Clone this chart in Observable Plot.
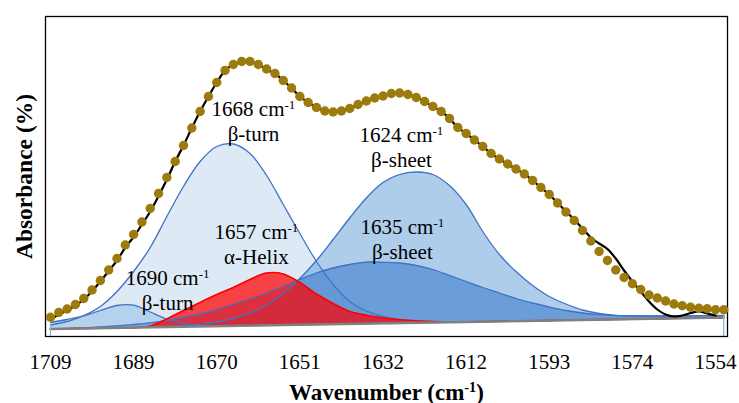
<!DOCTYPE html>
<html><head><meta charset="utf-8">
<script src="https://cdn.jsdelivr.net/npm/d3@7"></script>
<script src="https://cdn.jsdelivr.net/npm/@observablehq/plot@0.6"></script>
<style>
html,body{margin:0;padding:0;background:#fff;}
#chart{width:739px;height:403px;}
</style></head><body><div id="chart"></div>
<script>
// ---- data ----
const wnStart = 1709, wnStep = 1.9375;          // sampling grid of the spectrum (cm-1)
const tickLabels = ["1709","1689","1670","1651","1632","1612","1593","1574","1554"];
// observed spectrum (dots), one value per grid point i = 0..81
const observed = [19.3,24,27.5,32,38,46.5,56,66.5,78,91.5,
  102,114.5,128,143,159,175,191,208.5,225,240,
  254,266,272,275,275,272,267.5,263,256,248.5,
  240,234,229,225.5,224.5,225.5,228,232,235.5,238.5,
  240.5,243,243.5,242,239,235,230,225,218,209,
  203,196.5,190,183,177.5,172.5,167.5,162.5,156,149,
  142,133.5,124.5,116,106,95.5,85,76,66.5,59,
  52.7,47,41.5,38.5,35.5,32.5,30.7,29.3,28.3,27.7,
  26.8,26.7];
// fitted envelope (black line), i = 0..80
const fitted = [17,22,26,31,37,45.5,55,65.5,76,89,
  99.5,112,125,140.5,157,175,191,208.5,225,240,
  254,266,272,275,275,272,267.5,263,256,248.5,
  240,234,229,225.5,224.5,225.5,228,232,235.5,238.5,
  240.5,243,243.5,242,239,235,230,225,218,209,
  203,196.5,190,183,177.5,172.5,167.5,162.5,156,149,
  142,133.5,125,117,108,99,93,87.5,78,66,
  55,45,35,27,22,20,21,23.5,25,23,
  21];
// component bands, sampled at grid points i = 0,2,4,...,80,81
const band1690 = [11.5,15,20.5,26,31,31.3,24.5,17.5,13,10.7,10.3,10.6,10.9,11.2,11.5,11.8,12,12.3,12.6,12.9,13.2,13.5,13.7,14,14.3,14.6,14.9,15.2,15.4,15.7,16,16.3,16.6,16.9,17.1,17.4,17.7,18,18.3,18.6,18.8,19];
const band1668 = [14,17,21,30,45,65,89,120,150,175,190,192.5,183,161,132,103,75,52,35,25.5,20,17,15.2,14.5,14.3,14.6,14.9,15.2,15.4,15.7,16,16.3,16.6,16.9,17.1,17.4,17.7,18,18.3,18.6,18.8,19];
const band1657 = [7.5,7.8,8.1,8.4,8.6,8.9,10.5,17.5,26,34,42,49,57,63.5,62.5,54,42.5,33,25,21.2,18.5,16.8,15.7,15,14.5,14.6,14.9,15.2,15.4,15.7,16,16.3,16.6,16.9,17.1,17.4,17.7,18,18.3,18.6,18.8,19];
const band1635 = [7.7,8,8.6,9.5,10.5,12,13.7,16,19,22.5,27,32,37.5,43.5,50,57,63.5,68.5,72,74.4,74.2,73.5,71,67,61,55,49,43.5,38,33.5,29.5,26,23.5,21.8,20.8,20.5,20.5,20.7,20.8,20.9,21,21];
const band1624 = [7.5,7.8,8.1,8.4,8.6,8.9,9.2,9.7,10.5,12.3,14.5,18,23.5,31.5,43,58,76,97,118.5,138.5,154,162,164.5,162,151,132,105,82,65,51,40,32.5,26.5,23,21.2,20.5,20.3,20.4,20.5,20.6,20.7,20.7];
const baselineEnds = [7.5, 19];
const bandLabels = ["1690 cm-1\nβ-turn","1668 cm-1\nβ-turn","1657 cm-1\nα-Helix","1635 cm-1\nβ-sheet","1624 cm-1\nβ-sheet"];

// ---- tables ----
const wn = i => wnStart - i * wnStep;
const obsData = observed.map((v, i) => ({wn: wn(i), v}));
const fitData = fitted.map((v, i) => ({wn: wn(i), v}));
const bandIdx = d3.range(0, 81, 2).concat([81]);
const band = arr => arr.map((v, k) => ({wn: wn(bandIdx[k]), v}));
const lastWn = wn(81);
const baseData = [{wn: wnStart, v: baselineEnds[0]}, {wn: lastWn, v: baselineEnds[1]}];
const tickPos = tickLabels.map((_, k) => wn(k * 10));
const tickMap = new Map(tickPos.map((p, k) => [p, tickLabels[k]]));

// label anchors (layout): wavenumber centre, baseline height of last line
const labelPos = [[1681.7, 26.5],[1661.7, 196],[1661.0, 73],[1627.0, 77.5],[1627.2, 170]];
const labelData = bandLabels.map((t, k) => ({t, wn: labelPos[k][0], v: labelPos[k][1]}));

const blue = "#4472c4";
const curve = "catmull-rom";
const serif = "'Liberation Serif','Times New Roman',serif";

const chart = Plot.plot({
  width: 739, height: 403,
  marginLeft: 45, marginRight: 12, marginTop: 16, marginBottom: 67,
  style: {fontFamily: serif, fontSize: "21px", color: "black", background: "white", overflow: "visible"},
  x: {domain: [1710.165, 1551.203], ticks: tickPos, tickFormat: d => tickMap.get(d), tickSize: 0, tickPadding: 18, label: null},
  y: {domain: [0, 320], axis: null},
  marks: [
    Plot.areaY(band(band1668), {x: "wn", y: "v", fill: "#9dc3e6", fillOpacity: 0.35, curve}),
    Plot.areaY(band(band1624), {x: "wn", y: "v", fill: "#5b9bd5", fillOpacity: 0.5, curve}),
    Plot.areaY(band(band1635), {x: "wn", y: "v", fill: "#3578c8", fillOpacity: 0.55, curve}),
    Plot.areaY(band(band1690), {x: "wn", y: "v", fill: "#5b9bd5", fillOpacity: 0.3, curve}),
    Plot.areaY(band(band1657), {x: "wn", y: "v", fill: "#ff0000", fillOpacity: 0.72, curve}),
    Plot.areaY(baseData, {x: "wn", y: "v", fill: "white"}),
    Plot.line(band(band1668), {x: "wn", y: "v", stroke: blue, strokeWidth: 1.3, curve}),
    Plot.line(band(band1624), {x: "wn", y: "v", stroke: blue, strokeWidth: 1.3, curve}),
    Plot.line(band(band1635), {x: "wn", y: "v", stroke: blue, strokeWidth: 1.3, curve}),
    Plot.line(band(band1690), {x: "wn", y: "v", stroke: blue, strokeWidth: 1.3, curve}),
    Plot.line(band(band1657), {x: "wn", y: "v", stroke: "#ff0000", strokeWidth: 1.6, curve}),
    Plot.line(baseData, {x: "wn", y: "v", stroke: "#808080", strokeWidth: 2.5}),
    Plot.ruleX([{wn: wnStart, v: band1668[0]}, {wn: lastWn, v: band1635[band1635.length - 1]}], {x: "wn", y1: 0, y2: "v", stroke: "#8db3e2", strokeWidth: 1.2}),
    Plot.frame({stroke: "black", strokeWidth: 1.3}),
    Plot.line(fitData, {x: "wn", y: "v", stroke: "black", strokeWidth: 2.2, curve}),
    Plot.dot(obsData, {x: "wn", y: "v", r: 4.7, fill: "#9c7b0c"}),
    Plot.text(labelData, {x: "wn", y: "v", text: "t", fontSize: 21, lineHeight: 1.18, lineAnchor: "bottom", textAnchor: "middle", fill: "black"}),
    Plot.text(["Wavenumber (cm-1)"], {text: d => d, frameAnchor: "bottom", dy: 63, lineAnchor: "bottom", fontSize: 23, fontWeight: "bold", fill: "black"}),
    Plot.text(["Absorbance (%)"], {text: d => d, frameAnchor: "left", dx: -14, rotate: -90, lineAnchor: "bottom", textAnchor: "middle", fontSize: 23.5, fontWeight: "bold", fill: "black"})
  ]
});

// superscript the "-1" of cm-1
chart.querySelectorAll("text, tspan").forEach(el => {
  if (el.children.length === 0 && el.textContent.includes("cm-1")) {
    const parts = el.textContent.split("cm-1");
    el.textContent = parts[0] + "cm";
    const sup = document.createElementNS("http://www.w3.org/2000/svg", "tspan");
    sup.setAttribute("baseline-shift", "super");
    sup.setAttribute("font-size", "0.62em");
    sup.textContent = "-1";
    el.appendChild(sup);
    if (parts[1]) el.appendChild(document.createTextNode(parts[1]));
  }
});
document.getElementById("chart").appendChild(chart);
</script></body></html>
